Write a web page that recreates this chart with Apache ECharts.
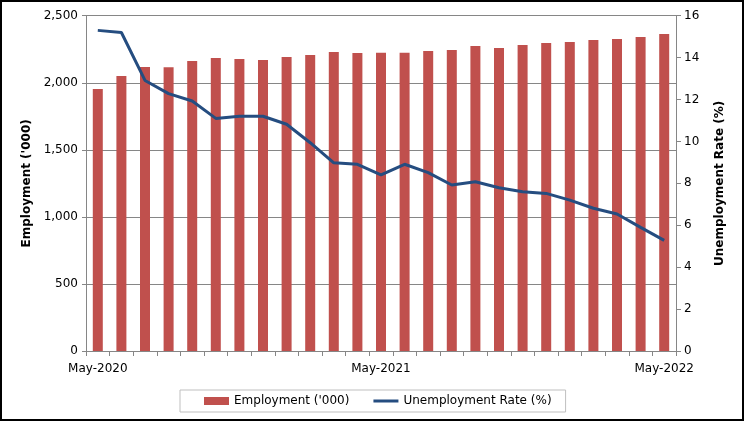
<!DOCTYPE html>
<html>
<head>
<meta charset="utf-8">
<script src="https://cdn.jsdelivr.net/npm/echarts@6/dist/echarts.min.js"></script>
<style>
html,body{margin:0;padding:0;background:#fff;}
#chart{width:744px;height:421px;}
</style>
</head>
<body>
<div id="chart"></div>
<script>
var months = ['May-2020','Jun-2020','Jul-2020','Aug-2020','Sep-2020','Oct-2020','Nov-2020','Dec-2020',
  'Jan-2021','Feb-2021','Mar-2021','Apr-2021','May-2021','Jun-2021','Jul-2021','Aug-2021','Sep-2021',
  'Oct-2021','Nov-2021','Dec-2021','Jan-2022','Feb-2022','Mar-2022','Apr-2022','May-2022'];
var employment = [1953,2050,2117,2115,2162,2185,2177,2170,2192,2207,2229,2222,2224,2224,2237,2244,2274,2259,2281,2296,2304,2319,2326,2341,2364];
var unemploymentRate = [15.30,15.20,12.91,12.28,11.93,11.10,11.20,11.20,10.82,9.94,8.98,8.91,8.40,8.91,8.51,7.92,8.08,7.79,7.60,7.52,7.20,6.81,6.54,5.90,5.28];
var empTicks = [0,500,1000,1500,2000,2500];
var rateTicks = [0,2,4,6,8,10,12,14,16];

var chart = echarts.init(document.getElementById('chart'), null, {renderer:'canvas'});
var font = 'DejaVu Sans';
var axisGray = '#868686';
chart.setOption({
  animation:false,
  backgroundColor:'#fff',
  textStyle:{fontFamily:font, color:'#000'},
  graphic:[{type:'rect', shape:{x:1,y:1,width:742,height:419}, style:{fill:'none', stroke:'#000', lineWidth:2}, silent:true}],
  grid:{left:86, right:68, top:15.7, bottom:70},
  legend:{
    bottom:9, left:180,
    data:[{name:"Employment ('000)", icon:'rect'},{name:'Unemployment Rate (%)', icon:'path://M0,0 L100,0 L100,12 L0,12 Z'}],
    itemWidth:25, itemHeight:8, itemGap:24,
    padding:[5,14,5,24],
    borderColor:'#bfbfbf', borderWidth:1,
    textStyle:{fontFamily:font, fontSize:12, color:'#000'}
  },
  xAxis:{
    type:'category', data:months, boundaryGap:true,
    axisLine:{lineStyle:{color:axisGray}},
    axisTick:{show:true, interval:0, length:5, lineStyle:{color:axisGray}},
    axisLabel:{interval:11, fontFamily:font, fontSize:12, color:'#000', margin:12},
    splitLine:{show:false}
  },
  yAxis:[{
    type:'value', min:empTicks[0], max:empTicks[empTicks.length-1], interval:500, position:'left',
    name:"Employment ('000)", nameLocation:'middle', nameGap:52,
    nameTextStyle:{fontFamily:font, fontSize:12, fontWeight:'bold', color:'#000'},
    axisLine:{show:true, lineStyle:{color:axisGray}},
    axisTick:{show:true, length:4, lineStyle:{color:axisGray}},
    axisLabel:{fontFamily:font, fontSize:12, color:'#000', margin:8,
      formatter:function(v){return v.toLocaleString('en-US');}},
    splitLine:{show:true, lineStyle:{color:axisGray, width:1}}
  },{
    type:'value', min:rateTicks[0], max:rateTicks[rateTicks.length-1], interval:2, position:'right',
    name:'Unemployment Rate (%)', nameLocation:'middle', nameGap:38,
    nameTextStyle:{fontFamily:font, fontSize:12, fontWeight:'bold', color:'#000'},
    axisLine:{show:true, lineStyle:{color:axisGray}},
    axisTick:{show:true, length:5, lineStyle:{color:axisGray}},
    axisLabel:{fontFamily:font, fontSize:12, color:'#000', margin:8},
    splitLine:{show:false}
  }],
  series:[{
    name:"Employment ('000)", type:'bar', data:employment, yAxisIndex:0,
    barWidth:10, itemStyle:{color:'#C0504D'}
  },{
    name:'Unemployment Rate (%)', type:'line', data:unemploymentRate, yAxisIndex:1,
    symbol:'none', lineStyle:{color:'#254D80', width:3}, itemStyle:{color:'#254D80'}
  }]
});
</script>
</body>
</html>
